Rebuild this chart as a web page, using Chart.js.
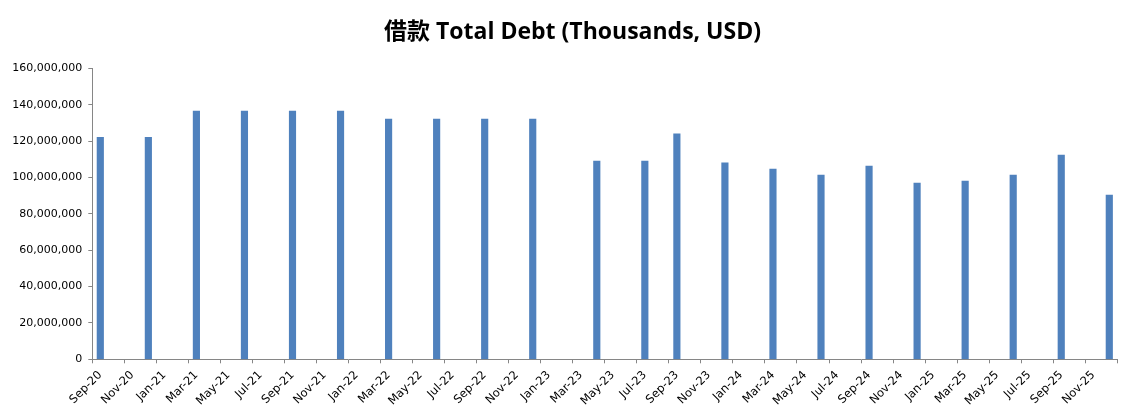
<!DOCTYPE html>
<html>
<head>
<meta charset="utf-8">
<script src="https://cdn.jsdelivr.net/npm/chart.js@4/dist/chart.umd.min.js"></script>
<style>
  html, body { margin: 0; padding: 0; background: #fff; }
  canvas { display: block; }
</style>
</head>
<body>
<canvas id="c" width="1145" height="415"></canvas>
<script>
// Reporting months (YYYY-MM)
const periods = [
  "2020-09","2020-12","2021-03","2021-06","2021-09","2021-12",
  "2022-03","2022-06","2022-09","2022-12","2023-04","2023-07",
  "2023-09","2023-12","2024-03","2024-06","2024-09","2024-12",
  "2025-03","2025-06","2025-09","2025-12"
];
// Total debt, thousands USD
const totalDebt = [
  122000000,122000000,136500000,136500000,136500000,136500000,
  132100000,132100000,132100000,132100000,109000000,109000000,
  124000000,108000000,104600000,101300000,106300000,96900000,
  98000000,101300000,112300000,90300000
];
// Axis labels (every second month starting Sep-20)
const tickLabels = [
  "Sep-20","Nov-20","Jan-21","Mar-21","May-21","Jul-21","Sep-21","Nov-21",
  "Jan-22","Mar-22","May-22","Jul-22","Sep-22","Nov-22","Jan-23","Mar-23",
  "May-23","Jul-23","Sep-23","Nov-23","Jan-24","Mar-24","May-24","Jul-24",
  "Sep-24","Nov-24","Jan-25","Mar-25","May-25","Jul-25","Sep-25","Nov-25"
];
const titleText = "借款 Total Debt (Thousands, USD)";

const startYear = 2020, startMonth = 9;
function monthPos(p) {
  const [y, m] = p.split("-").map(Number);
  return (y - startYear) * 12 + (m - startMonth) + 0.5;
}
const points = periods.map((p, i) => ({ x: monthPos(p), y: totalDebt[i] }));
const axisMax = tickLabels.length * 2; // through Jan-26 boundary

const axisColor = "#868686";
const tickFont = { family: "'DejaVu Sans', sans-serif", size: 11 };

new Chart(document.getElementById("c"), {
  type: "bar",
  data: {
    datasets: [{
      data: points,
      backgroundColor: "#4F81BD",
      borderWidth: 0,
      barThickness: 6.5
    }]
  },
  options: {
    responsive: false,
    animation: false,
    layout: { padding: 0 },
    plugins: {
      legend: { display: false },
      tooltip: { enabled: false },
      title: {
        display: true,
        text: titleText,
        color: "#000",
        font: { family: "'Open Sans', 'Noto Sans CJK SC', sans-serif", size: 23, weight: "bold", lineHeight: 1.2 },
        padding: { top: 19, bottom: 21.7 }
      }
    },
    scales: {
      x: {
        type: "linear",
        offset: false,
        min: 0,
        max: axisMax,
        afterBuildTicks: (scale) => {
          const t = [];
          for (let i = 0; i <= axisMax; i += 2) t.push({ value: i });
          scale.ticks = t;
        },
        afterFit: (scale) => { scale.height = 55.7; },
        ticks: {
          autoSkip: false,
          minRotation: 45,
          maxRotation: 45,
          padding: 5,
          labelOffset: 8,
          color: "#000",
          font: { family: "'DejaVu Sans', sans-serif", size: 11.5 },
          callback: (v) => tickLabels[Math.round(v / 2)] || ""
        },
        grid: { offset: false, drawOnChartArea: false, drawTicks: true, tickLength: 4, color: axisColor },
        border: { display: true, color: axisColor }
      },
      y: {
        min: 0,
        max: 160000000,
        afterFit: (scale) => { scale.width = 92.3; },
        ticks: {
          stepSize: 20000000,
          padding: 6,
          color: "#000",
          font: tickFont,
          callback: (v) => Number(v).toLocaleString("en-US")
        },
        grid: { drawOnChartArea: false, drawTicks: true, tickLength: 4, color: axisColor },
        border: { display: true, color: axisColor }
      },
      spacer: {
        position: "right",
        display: true,
        afterFit: (scale) => { scale.width = 27.7; },
        ticks: { display: false },
        grid: { display: false },
        border: { display: false }
      }
    }
  }
});
</script>
</body>
</html>
